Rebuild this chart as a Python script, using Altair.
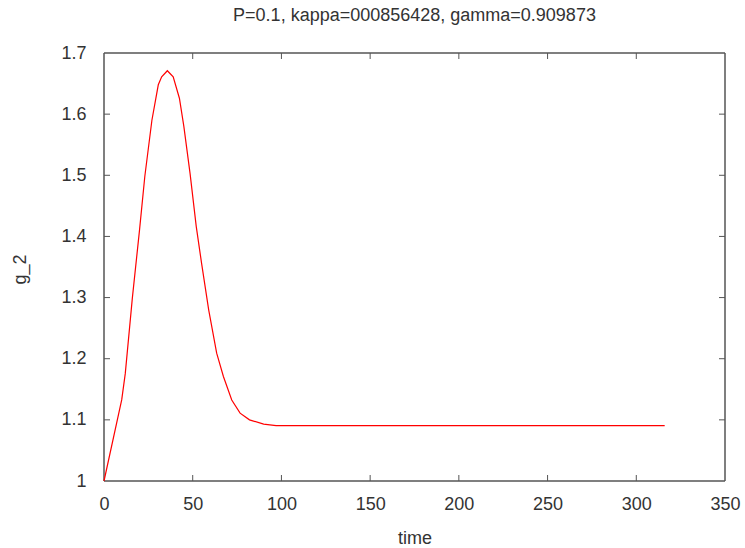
import altair as alt
import pandas as pd

# curve values
time = [0, 10, 12, 16, 20, 23, 27, 30.6, 32.5, 35.7, 39, 42.5, 45, 48.5, 52, 55, 59,
        63.5, 67.3, 72, 76.7, 82, 90, 97, 150, 200, 250, 300, 316]
g2 = [1.0, 1.133, 1.176, 1.30, 1.41, 1.498, 1.59, 1.648, 1.661, 1.671, 1.661, 1.626, 1.58,
      1.503, 1.416, 1.356, 1.28, 1.209, 1.171, 1.1325, 1.111, 1.100, 1.093, 1.0905, 1.0905,
      1.0905, 1.0905, 1.0905, 1.0905]

x_ticks = [0, 50, 100, 150, 200, 250, 300, 350]
y_ticks = [1.0, 1.1, 1.2, 1.3, 1.4, 1.5, 1.6, 1.7]

W, H = 621, 428
TL = 6
FONT = "Liberation Sans"
FS = 18
TXT = "#333333"
FRAME = "#555555"

df = pd.DataFrame({"time": time, "g2": g2})
dx = pd.DataFrame({"t": x_ticks[1:-1]})
dy = pd.DataFrame({"v": y_ticks[1:-1]})
dframe = pd.DataFrame({"k": [0]})

xs = alt.Scale(domain=[0, 350], nice=False, zero=False)
ys = alt.Scale(domain=[1.0, 1.7], nice=False, zero=False)

line = alt.Chart(df).mark_line(color="#ff0000", strokeWidth=1.2).encode(
    x=alt.X("time:Q", scale=xs, title="time",
            axis=alt.Axis(values=x_ticks, tickSize=0, domain=False, grid=False,
                          labelFlush=False, labelOverlap=False,
                          labelPadding=14, labelFontSize=FS, labelFont=FONT,
                          labelColor=TXT, titleFont=FONT, titleFontSize=FS,
                          titleFontWeight="normal", titleColor=TXT,
                          titleY=57, titleBaseline="middle")),
    y=alt.Y("g2:Q", scale=ys, title="g_2",
            axis=alt.Axis(values=y_ticks, tickSize=0, domain=False, grid=False,
                          labelFlush=False, labelOverlap=False,
                          labelPadding=18, labelFontSize=FS, labelFont=FONT,
                          labelColor=TXT, titleFont=FONT, titleFontSize=FS,
                          titleFontWeight="normal", titleColor=TXT,
                          titleX=-84, titleY=H / 2 + 2, titleBaseline="middle",
                          labelExpr="format(datum.value, '.2~f')")),
)

rk = dict(color=FRAME, strokeWidth=1)
tb = alt.Chart(dx).mark_rule(**rk).encode(
    x=alt.X("t:Q", scale=xs), y=alt.value(H), y2=alt.value(H - TL))
tt = alt.Chart(dx).mark_rule(**rk).encode(
    x=alt.X("t:Q", scale=xs), y=alt.value(0), y2=alt.value(TL))
tlft = alt.Chart(dy).mark_rule(**rk).encode(
    y=alt.Y("v:Q", scale=ys), x=alt.value(0), x2=alt.value(TL))
trt = alt.Chart(dy).mark_rule(**rk).encode(
    y=alt.Y("v:Q", scale=ys), x=alt.value(W), x2=alt.value(W - TL))

fk = dict(color=FRAME, strokeWidth=1.5)
f1 = alt.Chart(dframe).mark_rule(**fk).encode(x=alt.value(0), x2=alt.value(W), y=alt.value(0))
f2 = alt.Chart(dframe).mark_rule(**fk).encode(x=alt.value(0), x2=alt.value(W), y=alt.value(H))
f3 = alt.Chart(dframe).mark_rule(**fk).encode(y=alt.value(0), y2=alt.value(H), x=alt.value(0))
f4 = alt.Chart(dframe).mark_rule(**fk).encode(y=alt.value(0), y2=alt.value(H), x=alt.value(W))

chart = alt.layer(tb, tt, tlft, trt, f1, f2, f3, f4, line).properties(
    width=W, height=H,
    title=alt.TitleParams("P=0.1, kappa=000856428, gamma=0.909873", font=FONT,
                          fontSize=FS, fontWeight="normal", color=TXT,
                          anchor="middle", baseline="alphabetic", offset=22, dy=17),
    autosize=alt.AutoSizeParams(type="none"),
    padding={"left": 104, "top": 53, "right": 20, "bottom": 67},
).configure(background="white", view=alt.ViewConfig(stroke=None))

chart.save("out.html", embed_options={"renderer": "svg", "actions": False})
